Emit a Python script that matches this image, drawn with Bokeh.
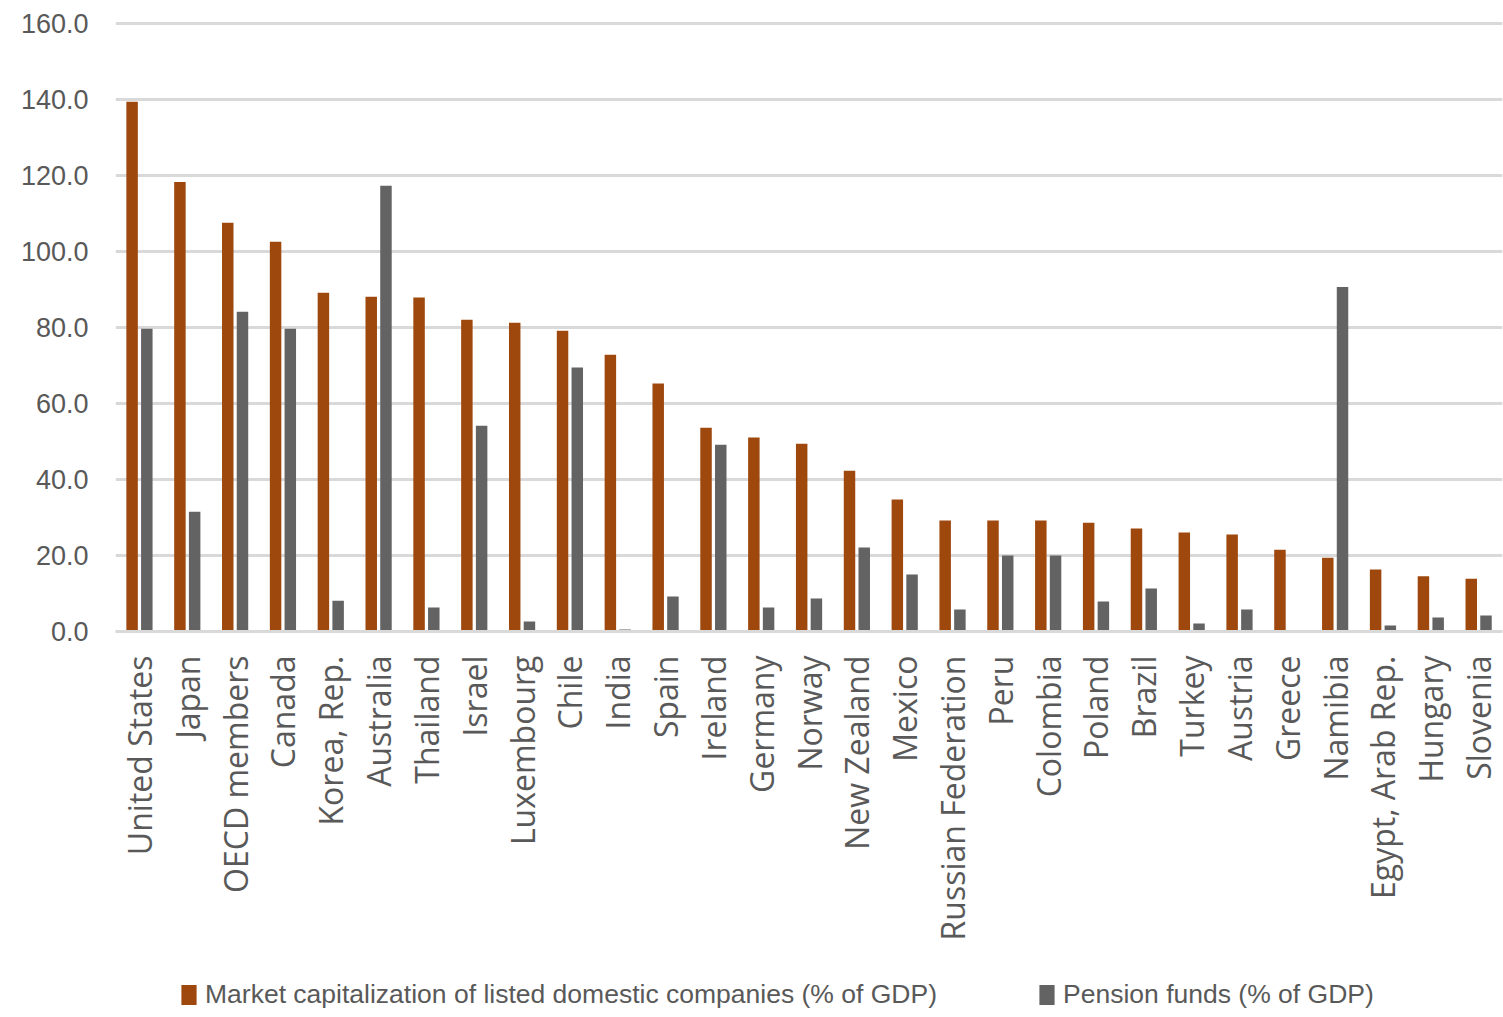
import math
from bokeh.plotting import figure
from bokeh.layouts import column
from bokeh.models import ColumnDataSource, FactorRange, Range1d, Legend, LegendItem, SingleIntervalTicker, CustomJSTickFormatter
from bokeh.transform import dodge
from bokeh.embed import file_html
from bokeh.resources import INLINE

countries = ["United States", "Japan", "OECD members", "Canada", "Korea, Rep.", "Australia",
             "Thailand", "Israel", "Luxembourg", "Chile", "India", "Spain", "Ireland", "Germany",
             "Norway", "New Zealand", "Mexico", "Russian Federation", "Peru", "Colombia", "Poland",
             "Brazil", "Turkey", "Austria", "Greece", "Namibia", "Egypt, Arab Rep.", "Hungary", "Slovenia"]
market_cap = [139.3, 118.2, 107.5, 102.5, 89.1, 88.0, 87.8, 82.0, 81.2, 79.1, 72.8, 65.2, 53.6, 51.0,
              49.4, 42.3, 34.7, 29.2, 29.2, 29.2, 28.6, 27.1, 26.0, 25.5, 21.5, 19.4, 16.3, 14.5, 13.9]
pension = [79.6, 31.5, 84.1, 79.6, 8.1, 117.2, 6.3, 54.1, 2.6, 69.4, 0.5, 9.2, 49.1, 6.3,
           8.7, 22.1, 15.0, 5.8, 20.0, 20.0, 7.9, 11.3, 2.1, 5.8, 0.0, 90.6, 1.6, 3.7, 4.2]
series_names = ["Market capitalization of listed domestic companies (% of GDP)", "Pension funds (% of GDP)"]

ORANGE = "#9E480E"
GRAY = "#636363"
TXT = "#595959"
GRID = "#D9D9D9"

src = ColumnDataSource(dict(country=countries, market=market_cap, pension=pension))

p = figure(width=1503, height=960, x_range=FactorRange(*countries, range_padding=0),
           y_range=Range1d(0, 160.4), output_backend="svg", toolbar_location=None,
           min_border_left=115, min_border_right=1, min_border_top=21, min_border_bottom=329)
p.outline_line_color = None
p.background_fill_color = "white"

r1 = p.vbar(x=dodge("country", -0.153, range=p.x_range), top="market", width=0.24, source=src,
            fill_color=ORANGE, line_color=None)
r2 = p.vbar(x=dodge("country", 0.155, range=p.x_range), top="pension", width=0.24, source=src,
            fill_color=GRAY, line_color=None)

p.yaxis.ticker = SingleIntervalTicker(interval=20)
p.yaxis.formatter = CustomJSTickFormatter(code="return tick.toFixed(1);")
p.yaxis.axis_line_color = None
p.yaxis.major_tick_line_color = None
p.yaxis.minor_tick_line_color = None
p.yaxis.major_label_standoff = 21
p.yaxis.major_label_text_font = "Liberation Sans"
p.yaxis.major_label_text_font_size = "27px"
p.yaxis.major_label_text_color = TXT

p.xaxis.axis_line_color = GRID
p.xaxis.axis_line_width = 3
p.xaxis.major_tick_line_color = None
p.xaxis.minor_tick_line_color = None
p.xaxis.major_label_orientation = math.pi / 2
p.xaxis.major_label_standoff = 18
p.xaxis.major_label_text_font = "Open Sans"
p.xaxis.major_label_text_font_size = "32px"
p.xaxis.major_label_text_color = TXT

p.xgrid.grid_line_color = None
p.ygrid.grid_line_color = GRID
p.ygrid.grid_line_width = 3

# legend strip (separate small figure below the chart); swatch renderers sit outside its range
lg = figure(width=1503, height=57, output_backend="svg", toolbar_location=None,
            x_axis_type=None, y_axis_type=None, min_border=0,
            x_range=Range1d(0, 1), y_range=Range1d(0, 1))
lg.outline_line_color = None
lg.xgrid.grid_line_color = None
lg.ygrid.grid_line_color = None
swatch_src = ColumnDataSource(dict(x=[-5.0], top=[-5.0]))
s1 = lg.vbar(x="x", top="top", bottom="top", width=0.01, source=swatch_src, fill_color=ORANGE, line_color=None)
s2 = lg.vbar(x="x", top="top", bottom="top", width=0.01, source=swatch_src, fill_color=GRAY, line_color=None)

legend = Legend(items=[LegendItem(label=series_names[0], renderers=[s1]),
                       LegendItem(label=series_names[1], renderers=[s2])],
                orientation="horizontal", location=(64, 7))
legend.label_text_font = "Liberation Sans"
legend.label_text_font_size = "26.5px"
legend.label_text_color = TXT
legend.glyph_width = 19
legend.glyph_height = 25
legend.label_standoff = 7
legend.spacing = 100
legend.border_line_color = None
legend.background_fill_alpha = 0
legend.margin = 0
legend.padding = 0
lg.add_layout(legend, "center")

layout = column(p, lg, spacing=0)
open("out.html", "w").write(file_html(layout, INLINE))
